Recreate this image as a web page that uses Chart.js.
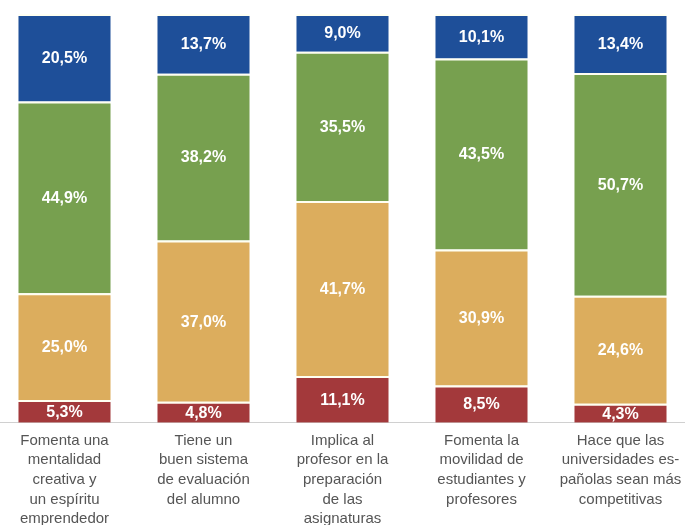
<!DOCTYPE html>
<html>
<head>
<meta charset="utf-8">
<script src="https://cdn.jsdelivr.net/npm/chart.js@4"></script>
<style>
  html, body { margin: 0; padding: 0; background: #fff; overflow: hidden; }
  #wrap { position: absolute; left: -5px; top: 0; width: 695px; height: 529px; }
</style>
</head>
<body>
<div id="wrap"><canvas id="myChart"></canvas></div>
<script>
const labels = [
    ['Fomenta una', 'mentalidad', 'creativa y', 'un espíritu', 'emprendedor'],
    ['Tiene un', 'buen sistema', 'de evaluación', 'del alumno'],
    ['Implica al', 'profesor en la', 'preparación', 'de las', 'asignaturas'],
    ['Fomenta la', 'movilidad de', 'estudiantes y', 'profesores'],
    ['Hace que las', 'universidades es-', 'pañolas sean más', 'competitivas']
];
const redValues = [5.3, 4.8, 11.1, 8.5, 4.3];
const tanValues = [25.0, 37.0, 41.7, 30.9, 24.6];
const greenValues = [44.9, 38.2, 35.5, 43.5, 50.7];
const blueValues = [20.5, 13.7, 9.0, 10.1, 13.4];

// bars in the original are stretched to full height
const totals = redValues.map((v, i) => v + tanValues[i] + greenValues[i] + blueValues[i]);
const norm = arr => arr.map((v, i) => v / totals[i] * 100);

const series = [
    { raw: redValues, color: '#a3393b' },
    { raw: tanValues, color: '#dcad5d' },
    { raw: greenValues, color: '#77a04f' },
    { raw: blueValues, color: '#1e4f99' }
];

const valueLabels = {
    id: 'valueLabels',
    afterDatasetsDraw(chart) {
        const ctx = chart.ctx;
        ctx.save();
        ctx.fillStyle = '#fff';
        ctx.font = 'bold 16px "Liberation Sans", Arial, sans-serif';
        ctx.textAlign = 'center';
        ctx.textBaseline = 'middle';
        chart.data.datasets.forEach((ds, di) => {
            chart.getDatasetMeta(di).data.forEach((bar, i) => {
                const v = ds.rawValues[i].toFixed(1).replace('.', ',') + '%';
                ctx.fillText(v, bar.x, (bar.y + bar.base) / 2 + 1);
            });
        });
        ctx.restore();
    }
};

const ctx = document.getElementById('myChart').getContext('2d');
const chart = new Chart(ctx, {
    type: 'bar',
    data: {
        labels: labels,
        datasets: series.map(s => ({
            data: norm(s.raw),
            rawValues: s.raw,
            backgroundColor: s.color,
            borderColor: 'rgba(255,255,230,0.55)',
            borderWidth: { top: 2, left: 0, right: 0, bottom: 0 },
            borderSkipped: false,
            barPercentage: 0.665,
            categoryPercentage: 1
        }))
    },
    options: {
        responsive: true,
        maintainAspectRatio: false,
        animation: false,
        layout: { padding: { top: 14, left: 0, right: 0, bottom: 0 } },
        plugins: {
            legend: { display: false },
            tooltip: { enabled: false }
        },
        scales: {
            x: {
                stacked: true,
                grid: { display: false },
                border: { display: true, color: '#d0d0d0', width: 1 },
                ticks: {
                    color: '#555',
                    padding: 0,
                    maxRotation: 0,
                    autoSkip: false,
                    font: { family: '"Liberation Sans", Arial, sans-serif', size: 15, lineHeight: 1.31 }
                }
            },
            y: {
                stacked: true,
                display: false,
                min: 0,
                max: 100
            }
        }
    },
    plugins: [valueLabels]
});
</script>
</body>
</html>
